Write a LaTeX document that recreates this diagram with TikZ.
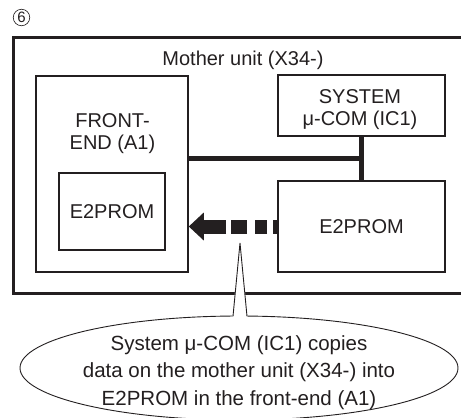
\documentclass[tikz,border=0pt]{standalone}
\usepackage{fontspec}
\setmainfont{Liberation Sans}
\usetikzlibrary{arrows.meta,shapes.geometric,calc}
\definecolor{ink}{RGB}{35,31,32}
\begin{document}
\begin{tikzpicture}[x=1pt,y=-1pt,
  box/.style={draw=ink, line width=1.6pt, inner sep=0pt, text=ink,
    font=\fontsize{20}{22}\selectfont},
  lbl/.style={text=ink, align=center, inner sep=0pt},
  bus/.style={draw=ink, line width=5pt},
  copyarrow/.style={draw=ink, line width=14pt,
    dash pattern=on 4pt off 6pt on 12pt off 8pt on 16pt off 5pt on 80pt,
    -{Triangle[length=15pt,width=28pt,line width=0pt]}}]
\useasboundingbox (0,0) rectangle (461,418);

% circled number
\node[circle, draw=ink, line width=0.6pt, inner sep=0pt, minimum size=16.5pt,
  text=ink, font=\fontsize{15}{15}\selectfont] (num) at (21.5,17.5) {6};

% mother unit
\node[draw=ink, line width=3pt, inner sep=0pt, minimum width=450pt,
  minimum height=256pt] (mother) at (238,165) {};
\node[lbl, anchor=base, font=\fontsize{20}{22}\selectfont] (mlabel) at (243,65) {Mother unit (X34-)};

% front-end
\node[box, minimum width=152pt, minimum height=196pt] (fe) at (112,174) {};
\node[lbl, anchor=base, font=\fontsize{20}{21.5}\selectfont] (felabel) at (112.5,149) {FRONT-\\END (A1)};
\node[box, line width=1.1pt, minimum width=106pt, minimum height=77pt] (fee) at (112,211.5) {E2PROM};

% system micro-com
\node[box, minimum width=167pt, minimum height=61pt] (sys) at (361.5,105.5) {};
\node[lbl, anchor=base, font=\fontsize{20}{22}\selectfont] (syslabel) at (360,125) {SYSTEM\\μ-COM (IC1)};

% mother E2PROM
\node[box, minimum width=167pt, minimum height=91pt] (e2r) at (361.5,226.5) {E2PROM};

% bus
\coordinate (busj) at (361.5,158.5);
\draw[bus] (sys.south) -- (e2r.north);
\draw[bus, shorten >=-2.5pt] (fe.east |- busj) -- (busj);

% copy arrow
\draw[copyarrow] (e2r.west) -- (fe.east |- e2r.west);

% callout
\node[draw=ink, line width=0.9pt, fill=white, ellipse, inner sep=0pt,
  minimum width=438pt, minimum height=104pt] (ell) at (239,368) {};
\coordinate (tip) at (240,243);
\coordinate (pl) at (233,316.3);
\coordinate (pr) at (247,316.3);
\fill[white] (tip) -- (232.3,319) -- (247.7,319) -- cycle;
\draw[ink, line width=0.9pt, line join=miter] (pl) -- (tip) -- (pr);
\node[lbl, anchor=base, font=\fontsize{20.5}{27.5}\selectfont] (note) at (239,405)
  {System μ-COM (IC1) copies\\data on the mother unit (X34-) into\\E2PROM in the front-end (A1)};
\end{tikzpicture}
\end{document}
